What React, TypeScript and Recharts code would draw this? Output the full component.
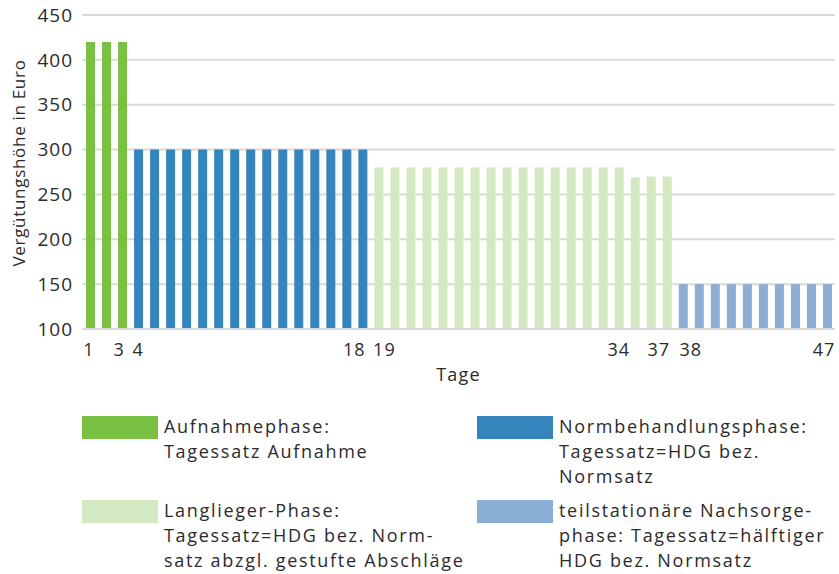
import React from 'react';
import { BarChart, Bar, XAxis, YAxis, CartesianGrid, Cell } from 'recharts';

// Days (categories)
const days = [
  1, 2, 3, 4, 5, 6, 7, 8, 9, 10, 11, 12, 13, 14, 15, 16, 17, 18, 19, 20,
  21, 22, 23, 24, 25, 26, 27, 28, 29, 30, 31, 32, 33, 34, 35, 36, 37, 38, 39, 40,
  41, 42, 43, 44, 45, 46, 47,
];

// Daily rate in Euro
const values = [
  420, 420, 420,
  300, 300, 300, 300, 300, 300, 300, 300, 300, 300, 300, 300, 300, 300, 300,
  280, 280, 280, 280, 280, 280, 280, 280, 280, 280, 280, 280, 280, 280, 280, 280,
  269, 270, 270,
  150, 150, 150, 150, 150, 150, 150, 150, 150, 150,
];

// Phase index per day
const phases = [
  0, 0, 0,
  1, 1, 1, 1, 1, 1, 1, 1, 1, 1, 1, 1, 1, 1, 1,
  2, 2, 2, 2, 2, 2, 2, 2, 2, 2, 2, 2, 2, 2, 2, 2,
  2, 2, 2,
  3, 3, 3, 3, 3, 3, 3, 3, 3, 3,
];

const phaseColors = ['#7AC143', '#3584BB', '#D4E8C1', '#8AAED4'];

const phaseLabels = [
  ['Aufnahmephase:', 'Tagessatz Aufnahme'],
  ['Normbehandlungsphase:', 'Tagessatz=HDG bez.', 'Normsatz'],
  ['Langlieger-Phase:', 'Tagessatz=HDG bez. Norm-', 'satz abzgl. gestufte Abschläge'],
  ['teilstationäre Nachsorge-', 'phase: Tagessatz=hälftiger', 'HDG bez. Normsatz'],
];

const xTickLabels = [1, 3, 4, 18, 19, 34, 37, 38, 47];
const yTicks = [100, 150, 200, 250, 300, 350, 400, 450];

const data = days.map((d, i) => ({ day: d, value: values[i], phase: phases[i] }));

const FONT = '"Open Sans", sans-serif';
const TEXT = '#2b2b2b';
const GRID = '#dadada';

const tickShift: Record<number, number> = { 1: -1, 3: -3, 18: -8, 19: 6, 37: -8, 38: 8, 47: -3 };

const XTick = (props: any) => {
  const { x, y, payload } = props;
  const v = Number(payload.value);
  if (!xTickLabels.includes(v)) return null;
  return (
    <text x={x + (tickShift[v] || 0)} y={y} dy="0.71em" textAnchor="middle"
      fill={TEXT} fontSize={18} fontFamily={FONT} letterSpacing={1}>
      {v}
    </text>
  );
};

const legendPos = [
  { left: 82, top: 416 },
  { left: 477, top: 416 },
  { left: 82, top: 500 },
  { left: 477, top: 500 },
];

export default function App() {
  return (
    <div style={{ position: 'absolute', left: 0, top: 0, width: 839, height: 574, background: '#fff', fontFamily: FONT }}>
      <BarChart width={839} height={400} data={data}
        margin={{ top: 15, right: 4, bottom: 11, left: 0 }} barSize={9}>
        <CartesianGrid vertical={false} stroke={GRID} strokeWidth={2} />
        <XAxis dataKey="day" type="category" interval={0} tickLine={false} tickSize={0} tickMargin={14}
          axisLine={{ stroke: GRID, strokeWidth: 2 }} height={60} tick={<XTick />}
          label={{ value: 'Tage', position: 'insideBottom', offset: 8, fill: TEXT, fontSize: 18, fontFamily: FONT, letterSpacing: 1.2 }} />
        <YAxis domain={[100, 450]} ticks={yTicks} width={82} axisLine={false} tickLine={false}
          tickSize={0} tickMargin={9} allowDataOverflow
          tick={{ fill: TEXT, fontSize: 19, fontFamily: FONT, letterSpacing: 1 }}
          label={(p: any) => {
            const vb = p.viewBox || { x: 0, y: 15, width: 82, height: 314 };
            const cx = 18;
            const cy = vb.y + vb.height / 2 - 9;
            return (
              <text x={cx} y={cy} transform={`rotate(-90 ${cx} ${cy})`} textAnchor="middle"
                dominantBaseline="central" fill={TEXT} fontSize={17} fontFamily={FONT} letterSpacing={0.7}>
                Vergütungshöhe in Euro
              </text>
            );
          }} />
        <Bar dataKey="value" isAnimationActive={false}>
          {data.map((d, i) => (
            <Cell key={i} fill={phaseColors[d.phase]} />
          ))}
        </Bar>
      </BarChart>
      {phaseLabels.map((lines, i) => (
        <div key={i}>
          <div style={{ position: 'absolute', left: legendPos[i].left, top: legendPos[i].top, width: 76, height: 23, background: phaseColors[i] }} />
          <div style={{ position: 'absolute', left: legendPos[i].left + 82, top: legendPos[i].top - 2, fontSize: 18, lineHeight: '25px', letterSpacing: '1.7px', color: TEXT, whiteSpace: 'nowrap' }}>
            {lines.map((l, j) => <div key={j}>{l}</div>)}
          </div>
        </div>
      ))}
    </div>
  );
}
